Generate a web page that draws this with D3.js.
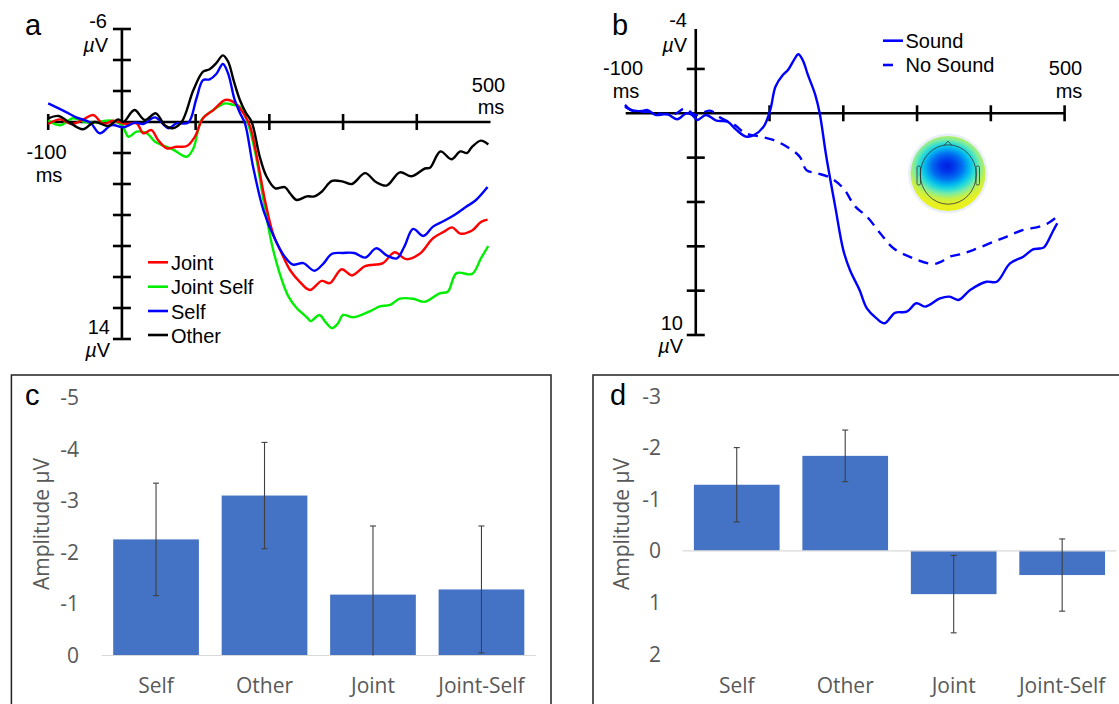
<!DOCTYPE html>
<html>
<head>
<meta charset="utf-8">
<script src="https://cdn.jsdelivr.net/npm/d3@7"></script>
<style>
  html, body { margin: 0; padding: 0; background: #fff; }
  svg { display: block; }
</style>
</head>
<body>
<svg id="chart" width="1119" height="704"></svg>
<script>
// ---------------- DATA ----------------
// Panel a: ERP waveforms [time ms, amplitude µV]
const jointSelfData = [[-100,-0.09],[-84,0.21],[-66,-0.24],[-50,0],[-39,0.04],[-14,-0.09],[0,0.2],[9,0.95],[20,0.62],[34,0.73],[45,1.27],[58,1.55],[70,1.8],[88,2.24],[97,1.7],[108,-0.13],[125,-0.8],[140,-1.2],[151,-1.1],[160,-1.0],[171,0.1],[181,2.0],[192,5.03],[203,7.8],[214,9.76],[226,11.27],[237,12.0],[251,12.6],[256,12.85],[268,12.45],[276,12.9],[285,13.3],[293,13.0],[300,12.45],[314,12.6],[339,12.15],[350,11.9],[364,11.8],[377,11.4],[395,11.4],[411,11.6],[431,11.05],[442,10.95],[454,9.75],[475,9.8],[487,8.8],[497,8.0]];
const jointData = [[-100,0.13],[-84,-0.17],[-68,0.13],[-52,-0.17],[-39,-0.45],[-25,0.13],[-12,-0.08],[6,0.13],[20,0.09],[29,0.73],[40,0.52],[49,1.16],[61,1.7],[74,1.6],[88,1.55],[99,0.95],[110,-0.24],[124,-0.77],[140,-1.42],[151,-1.3],[165,-0.56],[174,0.3],[183,2.24],[194,5.03],[205,7.2],[217,8.5],[228,9.55],[241,10.3],[255,10.84],[271,10.25],[282,10.4],[298,9.5],[312,9.9],[330,9.3],[354,9.1],[370,8.4],[386,8.85],[404,8.5],[422,7.5],[436,7.1],[448,6.8],[459,7.2],[475,7.0],[487,6.45],[496,6.3]];
const selfData = [[-100,-1.2],[-77,-0.67],[-62,-0.3],[-43,0.04],[-30,0.73],[-14,0.2],[2,0.34],[18,0.04],[29,0.13],[45,-0.3],[63,0.4],[74,0.09],[90,0.04],[101,-1.5],[110,-2.7],[119,-2.75],[128,-3.1],[137,-3.74],[144,-3.14],[153,-1.42],[160,-0.6],[167,0.1],[178,2.9],[192,5.7],[208,7.6],[221,8.7],[232,9.2],[246,9.1],[261,9.6],[273,9.15],[285,8.5],[300,8.45],[315,8.45],[330,8.75],[345,8.15],[359,8.6],[373,8.8],[383,8.05],[395,6.9],[409,7.35],[422,6.75],[436,6.4],[451,6.0],[466,5.5],[480,5.05],[496,4.2]];
const otherData = [[-100,-0.24],[-86,-0.39],[-71,0.04],[-53,0.47],[-37,0],[-19,0.26],[-5,-0.17],[2,0],[17,-0.77],[31,-0.13],[46,-0.56],[58,0.2],[69,0.4],[81,0],[97,-2.06],[110,-3.25],[119,-3.4],[128,-3.8],[137,-4.3],[144,-3.9],[152,-2.6],[160,-1.42],[168,-0.6],[176,0],[187,2.24],[196,3.5],[208,4.28],[221,4.2],[228,4.6],[237,5.03],[251,4.8],[261,4.8],[271,4.5],[285,3.8],[300,3.85],[312,4.0],[330,3.3],[344,3.85],[359,4.1],[377,3.25],[393,3.5],[411,3.0],[418,2.95],[432,1.9],[447,2.4],[459,1.9],[468,2.0],[475,1.6],[487,1.2],[497,1.45]];
const seriesNamesA = ["Joint", "Joint Self", "Self", "Other"];
const seriesColorsA = ["#ff0000", "#00ee00", "#0000ff", "#000000"];
const aXTicks = [-100, 100, 200, 300, 400];
const aYTicks = [-6, -4, -2, 2, 4, 6, 8, 10, 12, 14];

// Panel b
const soundData = [[-96,-0.38],[-88,-0.15],[-73,-0.1],[-66,-0.15],[-54,0.08],[-39,0.03],[-25,0.27],[-13,0],[-5,0.07],[2,0.3],[14,0.08],[28,0.33],[43,0.38],[55,0.75],[68,1.05],[79,0.98],[92,0.6],[101,-0.15],[108,-1.2],[118,-1.73],[125,-1.95],[133,-2.4],[139,-2.66],[145,-2.4],[152,-1.73],[162,-0.83],[168,0],[177,1.96],[189,4.2],[200,6.17],[209,7.07],[222,7.97],[232,8.8],[245,9.25],[256,9.47],[270,9.0],[286,8.95],[299,8.57],[311,8.72],[331,8.35],[344,8.27],[356,8.42],[372,7.97],[394,7.6],[408,7.6],[426,6.77],[444,6.47],[457,6.14],[466,6.1],[472,6.05],[484,5.33],[490,4.96]];
const noSoundData = [[-96,-0.3],[-82,-0.07],[-64,-0.07],[-46,0.03],[-28,0.03],[-15,-0.22],[0,0.08],[19,-0.12],[35,0.23],[53,0.53],[67,0.9],[87,1.05],[105,1.2],[123,1.5],[141,1.96],[150,2.56],[164,2.7],[182,2.9],[200,3.38],[216,4.2],[232,4.66],[250,5.41],[268,6.09],[295,6.54],[322,6.8],[332,6.7],[344,6.47],[360,6.35],[376,6.17],[399,5.86],[421,5.57],[444,5.26],[466,5.11],[478,4.95],[490,4.66]];
const seriesNamesB = ["Sound", "No Sound"];
const bXTicks = [100, 200, 300, 400, 500];
const bYTicks = [-2, 2, 4, 6, 8, 10];

// Panels c and d: bar charts
const categories = ["Self", "Other", "Joint", "Joint-Self"];
const cValues = [-2.25, -3.1, -1.18, -1.28];
const cErrors = [1.09, 1.03, 1.33, 1.23];
const cTicks = [0, -1, -2, -3, -4, -5];
const dValues = [-1.28, -1.84, 0.84, 0.47];
const dErrors = [0.72, 0.5, 0.75, 0.7];
const dTicks = [2, 1, 0, -1, -2, -3];

// ---------------- DRAW ----------------
const svg = d3.select("#chart");
svg.append("rect").attr("width", 1119).attr("height", 704).attr("fill", "#fff");
const ARIAL = "'Liberation Sans', Arial, Helvetica, sans-serif";
const XL = "'Open Sans', 'Noto Sans', sans-serif";

function uvLabel(g, x, y, anchor) {
  const t = g.append("text").attr("x", x).attr("y", y).attr("text-anchor", anchor)
    .attr("font-family", ARIAL).attr("font-size", 20).attr("fill", "#000");
  t.append("tspan").attr("font-style", "italic").text("\u00b5");
  t.append("tspan").text("V");
}
function plainText(g, x, y, anchor, txt, size, font, color) {
  return g.append("text").attr("x", x).attr("y", y).attr("text-anchor", anchor)
    .attr("font-family", font || ARIAL).attr("font-size", size || 20)
    .attr("fill", color || "#000").text(txt);
}

// ===== Panel a =====
{
  const g = svg.append("g");
  const x = d3.scaleLinear().domain([-100, 500]).range([48.2, 490.5]);
  const y = d3.scaleLinear().domain([-6, 14]).range([29, 339]);
  g.append("line").attr("x1", x(-100)).attr("x2", x(500)).attr("y1", y(0)).attr("y2", y(0))
    .attr("stroke", "#000").attr("stroke-width", 2.6);
  g.selectAll(".xt").data(aXTicks).join("line")
    .attr("x1", d => x(d)).attr("x2", d => x(d)).attr("y1", y(0) - 8).attr("y2", y(0) + 8)
    .attr("stroke", "#000").attr("stroke-width", 2.6);
  g.append("line").attr("x1", x(0)).attr("x2", x(0)).attr("y1", y(-6)).attr("y2", y(14))
    .attr("stroke", "#000").attr("stroke-width", 2.6);
  g.selectAll(".yt").data(aYTicks).join("line")
    .attr("x1", x(0) - 9).attr("x2", x(0) + 9).attr("y1", d => y(d)).attr("y2", d => y(d))
    .attr("stroke", "#000").attr("stroke-width", 2.6);

  const line = d3.line().x(d => x(d[0])).y(d => y(d[1])).curve(d3.curveCatmullRom.alpha(0.5));
  const drawOrder = [[jointSelfData, 1], [jointData, 0], [selfData, 2], [otherData, 3]];
  drawOrder.forEach(([data, i]) => {
    g.append("path").attr("d", line(data)).attr("fill", "none")
      .attr("stroke", seriesColorsA[i]).attr("stroke-width", 2.4).attr("stroke-linejoin", "round");
  });

  plainText(g, 25, 35, "start", "a", 29);
  plainText(g, 107, 28, "end", String(aYTicks[0]), 20);
  uvLabel(g, 108, 52, "end");
  plainText(g, 488.5, 92, "middle", "500", 20);
  plainText(g, 491, 114, "middle", "ms", 20);
  plainText(g, 46.5, 159, "middle", String(aXTicks[0]), 20);
  plainText(g, 49, 182, "middle", "ms", 20);
  plainText(g, 110, 334, "end", String(aYTicks[aYTicks.length - 1]), 20);
  uvLabel(g, 110, 357, "end");

  const legY = [262.3, 286.7, 311, 335];
  seriesNamesA.forEach((name, i) => {
    g.append("line").attr("x1", 148).attr("x2", 168).attr("y1", legY[i]).attr("y2", legY[i])
      .attr("stroke", seriesColorsA[i]).attr("stroke-width", 2.6);
    plainText(g, 171, legY[i] + 7.5, "start", name, 20);
  });
}

// ===== Panel b =====
{
  const g = svg.append("g");
  const x = d3.scaleLinear().domain([-100, 500]).range([622, 1064.6]);
  const y = d3.scaleLinear().domain([-4, 10]).range([24.6, 335]);
  g.append("line").attr("x1", x(-95)).attr("x2", x(500)).attr("y1", y(0)).attr("y2", y(0))
    .attr("stroke", "#000").attr("stroke-width", 2.6);
  g.selectAll(".xt").data(bXTicks).join("line")
    .attr("x1", d => x(d)).attr("x2", d => x(d)).attr("y1", y(0) - 8).attr("y2", y(0) + 8)
    .attr("stroke", "#000").attr("stroke-width", 2.6);
  g.append("line").attr("x1", x(0)).attr("x2", x(0)).attr("y1", y(-3.8)).attr("y2", y(10))
    .attr("stroke", "#000").attr("stroke-width", 2.6);
  g.selectAll(".yt").data(bYTicks).join("line")
    .attr("x1", x(0) - 9).attr("x2", x(0) + 9).attr("y1", d => y(d)).attr("y2", d => y(d))
    .attr("stroke", "#000").attr("stroke-width", 2.6);

  // topographic scalp map (decorative)
  const defs = svg.append("defs");
  const grad = defs.append("radialGradient").attr("id", "topo").attr("gradientUnits", "userSpaceOnUse")
    .attr("cx", 947).attr("cy", 167).attr("r", 38).attr("fx", 947).attr("fy", 166)
    .attr("gradientTransform", "translate(947,167) scale(1.2,1) translate(-947,-167)");
  [[0, "#0020e0"], [0.16, "#0038ec"], [0.34, "#0070f0"], [0.48, "#00b4f0"], [0.6, "#28dcd8"],
   [0.72, "#80eca0"], [0.85, "#c8f044"], [1, "#e8f020"]]
    .forEach(([o, c]) => grad.append("stop").attr("offset", o).attr("stop-color", c));
  g.append("circle").attr("cx", 948).attr("cy", 173.5).attr("r", 40).attr("fill", "#eaf0fb");
  g.append("circle").attr("cx", 948).attr("cy", 173.5).attr("r", 37.5).attr("fill", "url(#topo)");
  g.append("ellipse").attr("cx", 948.3).attr("cy", 174.5).attr("rx", 28).attr("ry", 29.7).attr("fill", "none")
    .attr("stroke", "#333").attr("stroke-width", 0.8);
  g.append("path").attr("d", "M944,145.5 L948,141 L952,145.5").attr("fill", "none")
    .attr("stroke", "#333").attr("stroke-width", 0.8);
  g.append("rect").attr("x", 917).attr("y", 166).attr("width", 3.5).attr("height", 19).attr("rx", 1.5)
    .attr("fill", "none").attr("stroke", "#333").attr("stroke-width", 0.8);
  g.append("rect").attr("x", 976).attr("y", 166).attr("width", 3.5).attr("height", 19).attr("rx", 1.5)
    .attr("fill", "none").attr("stroke", "#333").attr("stroke-width", 0.8);

  const line = d3.line().x(d => x(d[0])).y(d => y(d[1])).curve(d3.curveCatmullRom.alpha(0.5));
  g.append("path").attr("d", line(noSoundData)).attr("fill", "none").attr("stroke", "#0000ff")
    .attr("stroke-width", 2.4).attr("stroke-dasharray", "10,7");
  g.append("path").attr("d", line(soundData)).attr("fill", "none").attr("stroke", "#0000ff")
    .attr("stroke-width", 2.4).attr("stroke-linejoin", "round");

  plainText(g, 612, 35, "start", "b", 29);
  plainText(g, 687, 27, "end", "-4", 20);
  uvLabel(g, 687, 52, "end");
  plainText(g, 623, 75, "middle", "-100", 20);
  plainText(g, 626, 98, "middle", "ms", 20);
  plainText(g, 1065.5, 75, "middle", String(bXTicks[bXTicks.length - 1]), 20);
  plainText(g, 1069, 98, "middle", "ms", 20);
  plainText(g, 683, 330, "end", String(bYTicks[bYTicks.length - 1]), 20);
  uvLabel(g, 683, 353, "end");

  g.append("line").attr("x1", 883).attr("x2", 903).attr("y1", 40.7).attr("y2", 40.7)
    .attr("stroke", "#0000ff").attr("stroke-width", 2.6);
  plainText(g, 905.5, 47.7, "start", seriesNamesB[0], 20);
  g.append("line").attr("x1", 883).attr("x2", 893).attr("y1", 65).attr("y2", 65)
    .attr("stroke", "#0000ff").attr("stroke-width", 2.6);
  plainText(g, 905.5, 72, "start", seriesNamesB[1], 20);
}

// ===== Bar panels =====
function barPanel(opts) {
  const g = svg.append("g");
  g.append("rect").attr("x", opts.box[0]).attr("y", opts.box[1]).attr("width", opts.box[2]).attr("height", opts.box[3])
    .attr("fill", "#fff").attr("stroke", "#222").attr("stroke-width", 1.5);
  const x = d3.scaleBand().domain(categories).range(opts.xRange).paddingInner(0.21).paddingOuter(0.105);
  const y = d3.scaleLinear().domain(opts.yDomain).range(opts.yRange);
  const [ymin, ymax] = [Math.min(...opts.yDomain), Math.max(...opts.yDomain)];
  g.selectAll(".tl").data(opts.ticks).join("text")
    .attr("x", opts.tickX).attr("y", d => y(d)).attr("dy", "0.36em").attr("text-anchor", "end")
    .attr("font-family", XL).attr("font-size", 21).attr("fill", "#595959").text(d => String(d));
  g.selectAll(".bar").data(opts.values).join("rect")
    .attr("x", (d, i) => x(categories[i])).attr("width", x.bandwidth())
    .attr("y", d => Math.min(y(d), y(0))).attr("height", d => Math.abs(y(d) - y(0)))
    .attr("fill", "#4472c4");
  g.append("line").attr("x1", opts.xRange[0]).attr("x2", opts.xRange[1]).attr("y1", y(0)).attr("y2", y(0))
    .attr("stroke", "#d9d9d9").attr("stroke-width", 1.2);
  opts.values.forEach((v, i) => {
    const cx = x(categories[i]) + x.bandwidth() / 2;
    const lo = Math.max(ymin, Math.min(ymax, v - opts.errors[i]));
    const hi = Math.max(ymin, Math.min(ymax, v + opts.errors[i]));
    g.append("line").attr("x1", cx).attr("x2", cx).attr("y1", y(lo)).attr("y2", y(hi))
      .attr("stroke", "#404040").attr("stroke-width", 1.1);
    [[lo, v - opts.errors[i]], [hi, v + opts.errors[i]]].forEach(([c, raw]) => {
      if (c === raw) g.append("line").attr("x1", cx - 3).attr("x2", cx + 3).attr("y1", y(c)).attr("y2", y(c))
        .attr("stroke", "#404040").attr("stroke-width", 1.1);
    });
  });
  g.selectAll(".cl").data(categories).join("text")
    .attr("x", d => x(d) + x.bandwidth() / 2).attr("y", 693).attr("text-anchor", "middle")
    .attr("font-family", XL).attr("font-size", 21).attr("fill", "#595959").text(d => d);
  g.append("text").attr("transform", `translate(${opts.titleX},${opts.titleY}) rotate(-90)`)
    .attr("text-anchor", "middle").attr("font-family", XL).attr("font-size", 21).attr("fill", "#595959")
    .text("Amplitude \u00b5V");
  plainText(g, opts.letterX, 405, "start", opts.letter, 29);
}

barPanel({
  box: [11.4, 375, 539.6, 400], xRange: [101.8, 535.7], yDomain: [0, -5], yRange: [655.5, 397.5],
  ticks: cTicks, tickX: 79, values: cValues, errors: cErrors, titleX: 49, titleY: 524,
  letter: "c", letterX: 25
});
barPanel({
  box: [593, 375, 600, 400], xRange: [682.5, 1116.4], yDomain: [2, -3], yRange: [654, 396],
  ticks: dTicks, tickX: 661, values: dValues, errors: dErrors, titleX: 629, titleY: 524,
  letter: "d", letterX: 610
});
</script>
</body>
</html>
